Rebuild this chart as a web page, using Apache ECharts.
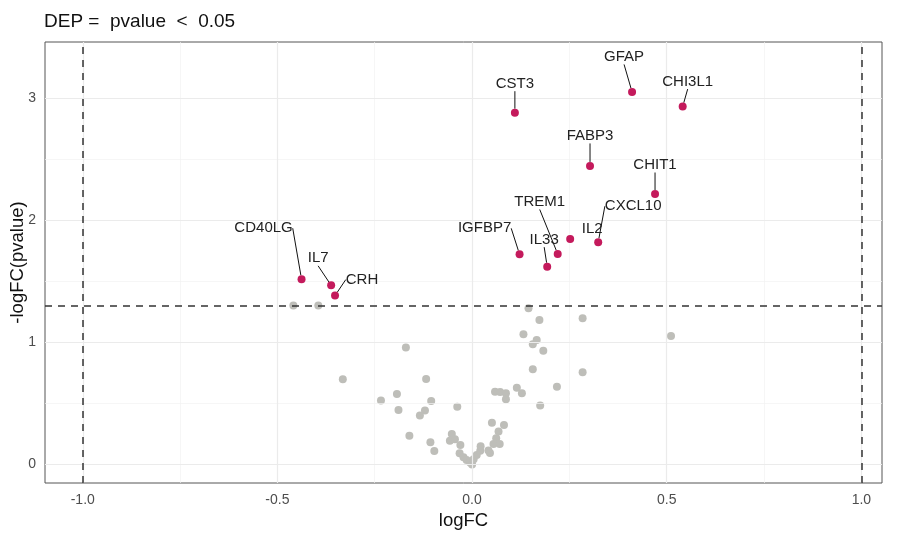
<!DOCTYPE html>
<html>
<head>
<meta charset="utf-8">
<script src="https://cdn.jsdelivr.net/npm/echarts@6/dist/echarts.min.js"></script>
<style>html,body{margin:0;padding:0;background:#fff}#c{width:899px;height:537px}</style>
</head>
<body>
<div id="c"></div>
<script>
// ---- data ----
var sigGenes = ['GFAP','CHI3L1','CST3','FABP3','CHIT1','IL2','CXCL10','TREM1','IGFBP7','IL33','CD40LG','IL7','CRH'];
var sigLogFC = [0.411, 0.541, 0.110, 0.303, 0.470, 0.252, 0.324, 0.220, 0.122, 0.193, -0.438, -0.362, -0.352];
var sigNegLogP = [3.051, 2.931, 2.881, 2.445, 2.215, 1.846, 1.820, 1.724, 1.721, 1.620, 1.517, 1.467, 1.383];

var nsLogFC = [-0.459,-0.395,-0.332,-0.170,-0.118,-0.193,-0.234,-0.189,-0.105,-0.121,-0.134,-0.038,-0.161,-0.107,-0.097,
  -0.052,-0.057,-0.044,-0.030,-0.032,-0.022,-0.014,-0.005,0.000,0.004,0.012,0.021,0.022,0.042,0.046,0.055,0.062,0.068,
  0.071,0.051,0.082,0.059,0.072,0.087,0.087,0.115,0.128,0.175,0.218,0.156,0.284,0.145,0.173,0.284,0.132,0.166,0.156,0.183,0.511];
var nsNegLogP = [1.301,1.301,0.698,0.957,0.700,0.577,0.523,0.446,0.520,0.441,0.400,0.473,0.236,0.182,0.111,
  0.250,0.195,0.206,0.160,0.092,0.059,0.037,0.015,0.000,0.043,0.078,0.113,0.149,0.115,0.094,0.168,0.215,0.269,
  0.168,0.342,0.324,0.596,0.594,0.583,0.534,0.629,0.583,0.482,0.637,0.780,0.755,1.279,1.183,1.197,1.066,1.020,0.984,0.932,1.052];

var xTicks = [-1.0, -0.5, 0.0, 0.5, 1.0];
var xMinor = [-0.75, -0.25, 0.25, 0.75];
var yTicks = [0, 1, 2, 3];
var yMinor = [0.5, 1.5, 2.5];
var fcCut = [-1, 1];
var pCut = [1.301];

// ---- label placement (layout only) ----
var labelOffset = {
  GFAP:[-8,-35], CHI3L1:[5,-25], CST3:[0,-29], FABP3:[0,-30], CHIT1:[0,-29], IL2:[22,-10],
  CXCL10:[35,-36], TREM1:[-18,-52], IGFBP7:[-35,-26], IL33:[-3,-27], CD40LG:[-38,-51], IL7:[-13,-27], CRH:[27,-16]
};
var noSegment = {IL2:true};

var sigData = sigGenes.map(function(g,i){
  return {name:g, value:[sigLogFC[i], sigNegLogP[i]], labelLine:{show: !noSegment[g]}};
});
var nsData = nsLogFC.map(function(x,i){ return [x, nsNegLogP[i]]; });

function vlines(arr){ return arr.map(function(v){ return {xAxis:v}; }); }
function hlines(arr){ return arr.map(function(v){ return {yAxis:v}; }); }

var font = 'Liberation Sans, Arial, Helvetica, sans-serif';
var chart = echarts.init(document.getElementById('c'), null, {renderer:'canvas'});
chart.setOption({
  animation:false,
  backgroundColor:'#ffffff',
  title:{text:'DEP =  pvalue  <  0.05', left:39, top:7,
    textStyle:{fontFamily:font, fontSize:19, fontWeight:'normal', color:'#111'}},
  grid:{left:45, right:17, top:42, bottom:54, outerBoundsMode:'none', containLabel:false,
    show:true, borderColor:'#555', borderWidth:1, backgroundColor:'transparent'},
  xAxis:{type:'value', min:-1.097, max:1.053,
    name:'logFC', nameLocation:'middle', nameGap:28, nameMoveOverlap:false,
    nameTextStyle:{fontFamily:font, fontSize:18.5, color:'#111'},
    axisLine:{show:false}, splitLine:{show:false},
    axisTick:{show:true, customValues:xTicks, length:4, lineStyle:{color:'#333'}},
    axisLabel:{customValues:xTicks, fontFamily:font, fontSize:14, color:'#4d4d4d', margin:10,
      formatter:function(v){ return v.toFixed(1); }}},
  yAxis:{type:'value', min:-0.152, max:3.46,
    name:'-logFC(pvalue)', nameLocation:'middle', nameGap:18, nameMoveOverlap:false,
    nameTextStyle:{fontFamily:font, fontSize:18.5, color:'#111'},
    axisLine:{show:false}, splitLine:{show:false},
    axisTick:{show:true, customValues:yTicks, length:4, lineStyle:{color:'#333'}},
    axisLabel:{customValues:yTicks, fontFamily:font, fontSize:14, color:'#4d4d4d', margin:9,
      formatter:function(v){ return String(v); }}},
  series:[
    {type:'scatter', data:[], silent:true, z:1,
      markLine:{silent:true, symbol:['none','none'], label:{show:false}, animation:false,
        lineStyle:{color:'#f2f2f2', width:0.7, type:'solid'},
        data: vlines(xMinor).concat(hlines(yMinor))}},
    {type:'scatter', data:[], silent:true, z:2,
      markLine:{silent:true, symbol:['none','none'], label:{show:false}, animation:false,
        lineStyle:{color:'#ebebeb', width:1.2, type:'solid'},
        data: vlines(xTicks).concat(hlines(yTicks))}},
    {type:'scatter', data:nsData, symbolSize:8, z:3, silent:true,
      itemStyle:{color:'#bebeb9', opacity:1}},
    {type:'scatter', data:[], silent:true, z:4,
      markLine:{silent:true, symbol:['none','none'], label:{show:false}, animation:false,
        lineStyle:{color:'#333', width:1.5, type:[7,6]},
        data: vlines(fcCut).concat(hlines(pCut))}},
    {type:'scatter', data:sigData, symbolSize:8, z:5, silent:true,
      itemStyle:{color:'#c41a5c', opacity:1},
      label:{show:true, position:'inside', formatter:'{b}', fontFamily:font, fontSize:15, color:'#222'},
      labelLine:{show:true, lineStyle:{color:'#111', width:1}},
      labelLayout:function(p){
        var o = labelOffset[sigGenes[p.dataIndex]];
        return {dx:o[0], dy:o[1], hideOverlap:false, moveOverlap:false};
      }}
  ]
});
</script>
</body>
</html>
